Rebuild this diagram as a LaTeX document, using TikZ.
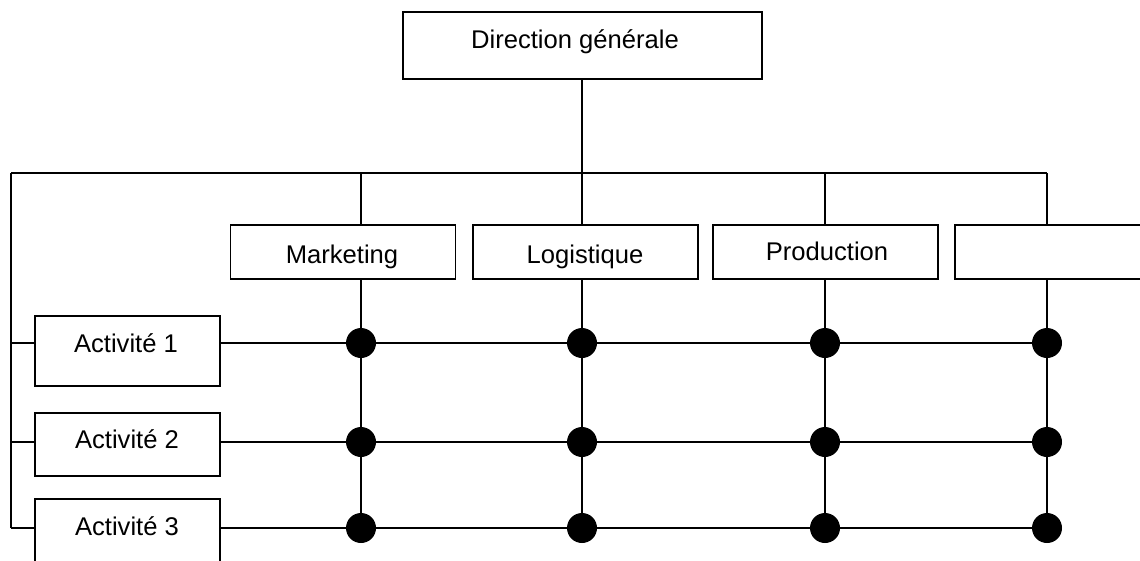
\documentclass[tikz,border=0pt]{standalone}
\usepackage{fontspec}
\setmainfont{Liberation Sans}
\begin{document}
\begin{tikzpicture}[x=1pt,y=-1pt,line width=1.8pt,
  box/.style={draw, rectangle, inner sep=0pt, line width=1.8pt},
  colbox/.style={box, minimum width=225pt, minimum height=54pt},
  actbox/.style={box, minimum width=185pt},
  lbl/.style={anchor=base, inner sep=0pt, font=\fontsize{25.6}{30}\selectfont},
  dot/.style={circle, fill=black, draw=none, inner sep=0pt, minimum size=30pt}]
\useasboundingbox (0,0) rectangle (1140,560);
\clip (0,0) rectangle (1140,560);
% boxes
\node[box, minimum width=359pt, minimum height=67pt] (dg) at (582.5,45.5) {};
\node[colbox] (mk) at (343,252) {};
\node[colbox] (lg) at (585.5,252) {};
\node[colbox] (pr) at (825.5,252) {};
\node[colbox] (b4) at (1067.5,252) {};
\node[actbox, minimum height=70pt] (a1) at (127.5,351) {};
\node[actbox, minimum height=63pt] (a2) at (127.5,444.5) {};
\node[actbox, minimum height=70pt] (a3) at (127.5,534) {};
% labels
\node[lbl] (tdg) at (575,48) {Direction générale};
\node[lbl] (tmk) at (342,263) {Marketing};
\node[lbl] (tlg) at (585,263) {Logistique};
\node[lbl] (tpr) at (827,260) {Production};
\node[lbl] (ta1) at (126,352) {Activité 1};
\node[lbl] (ta2) at (127,448) {Activité 2};
\node[lbl] (ta3) at (127,535) {Activité 3};
% bus coordinates
\coordinate (busL) at (11,173);
\coordinate (busR) at (1047,173);
\coordinate (c1) at (361,173);
\coordinate (c2) at (582,173);
\coordinate (c3) at (825,173);
\coordinate (c4) at (1047,173);
\coordinate (leftEnd) at (11,528);
% grid points
\foreach \r/\y in {1/343,2/442,3/528}{
  \foreach \c/\x in {1/361,2/582,3/825,4/1047}{
    \coordinate (p\r\c) at (\x,\y);
  }
}
% connectors
\draw (dg.south -| c2) -- (c2);
\draw (busL) -- (busR);
\draw (busL) -- (leftEnd);
\foreach \c/\b in {1/mk,2/lg,3/pr,4/b4}{
  \draw (c\c) -- (c\c |- \b.north);
  \draw (c\c |- \b.south) -- (p3\c);
}
\foreach \r in {1,2,3}{
  \draw (busL |- p\r1) -- (a\r.west |- p\r1);
  \draw (a\r.east |- p\r1) -- (p\r4);
}
\foreach \r in {1,2,3}{
  \foreach \c in {1,2,3,4}{
    \node[dot] (d\r\c) at (p\r\c) {};
  }
}
\end{tikzpicture}
\end{document}
